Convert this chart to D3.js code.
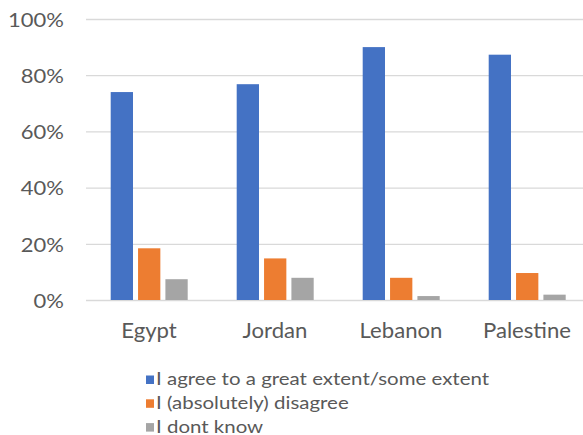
<!DOCTYPE html>
<html>
<head>
<meta charset="utf-8">
<script src="https://cdn.jsdelivr.net/npm/d3@7"></script>
<style>
  html, body { margin: 0; padding: 0; background: #fff; }
  svg { display: block; }
  text { font-family: Lato, "Open Sans", sans-serif; fill: #595959; }
</style>
</head>
<body>
<svg id="chart" width="583" height="435"></svg>
<script>
const countries = ["Egypt", "Jordan", "Lebanon", "Palestine"];
const seriesNames = ["I agree to a great extent/some extent", "I (absolutely) disagree", "I dont know"];
const agree = [0.74, 0.768, 0.90, 0.873];
const disagree = [0.184, 0.148, 0.079, 0.096];
const dontKnow = [0.074, 0.079, 0.014, 0.019];
const yTicks = [0, 0.2, 0.4, 0.6, 0.8, 1.0];
const colors = ["#4472C4", "#ED7D31", "#A5A5A5"];

const seriesValues = [agree, disagree, dontKnow];
const data = countries.map((c, i) => ({
  country: c,
  values: seriesNames.map((s, j) => ({ series: s, idx: j, value: seriesValues[j][i] }))
}));

const svg = d3.select("#chart");
const plotLeft = 86, plotRight = 590, plotTop = 19, plotBottom = 300;

const y = d3.scaleLinear().domain([0, 1]).range([plotBottom, plotTop]);
const x0 = d3.scaleBand().domain(countries).range([plotLeft, plotRight]).padding(0);
const x1 = d3.scaleBand().domain(d3.range(seriesNames.length)).range([24.7, 101.7]).paddingInner(0.185).paddingOuter(0);

// gridlines
const grid = svg.append("g")
  .attr("transform", `translate(${plotLeft},0)`)
  .call(d3.axisLeft(y).tickValues(yTicks).tickSize(-(583 - plotLeft)).tickFormat(""));
grid.select(".domain").remove();
grid.selectAll(".tick line").attr("stroke", "#d9d9d9").attr("stroke-width", 1.3);

// y labels
const yAxis = svg.append("g")
  .attr("transform", `translate(64,0)`)
  .call(d3.axisLeft(y).tickValues(yTicks).tickSize(0).tickPadding(0).tickFormat(d3.format(".0%")));
yAxis.select(".domain").remove();
yAxis.selectAll(".tick text")
  .attr("x", null).attr("dy", "0.36em")
  .attr("font-size", 20).attr("fill", "#595959")
  .attr("transform", "scale(1.1,1)");

// bars
const groups = svg.append("g").selectAll("g")
  .data(data).join("g")
  .attr("transform", d => `translate(${x0(d.country)},0)`);
groups.selectAll("rect")
  .data(d => d.values).join("rect")
  .attr("x", d => x1(d.idx))
  .attr("width", x1.bandwidth())
  .attr("y", d => y(d.value))
  .attr("height", d => y(0) - y(d.value))
  .attr("fill", d => colors[d.idx]);

// x labels
const xAxis = svg.append("g")
  .attr("transform", `translate(0,${plotBottom})`)
  .call(d3.axisBottom(x0).tickSize(0).tickPadding(0));
xAxis.select(".domain").remove();
xAxis.selectAll(".tick text")
  .attr("y", null).attr("dy", null)
  .attr("font-size", 20.5).attr("fill", "#595959")
  .attr("transform", "translate(0,38) scale(1.08,1)");

// legend
const legend = svg.append("g").attr("transform", "translate(146,0)");
const items = legend.selectAll("g").data(seriesNames).join("g")
  .attr("transform", (d, i) => `translate(0,${385 + i * 23.8})`);
items.append("rect").attr("x", 0).attr("y", -9.5).attr("width", 8).attr("height", 8.5)
  .attr("fill", (d, i) => colors[i]);
items.append("text")
  .attr("transform", "translate(10,0) scale(1.24,1)")
  .attr("font-size", 16.5).text(d => d);
</script>
</body>
</html>
